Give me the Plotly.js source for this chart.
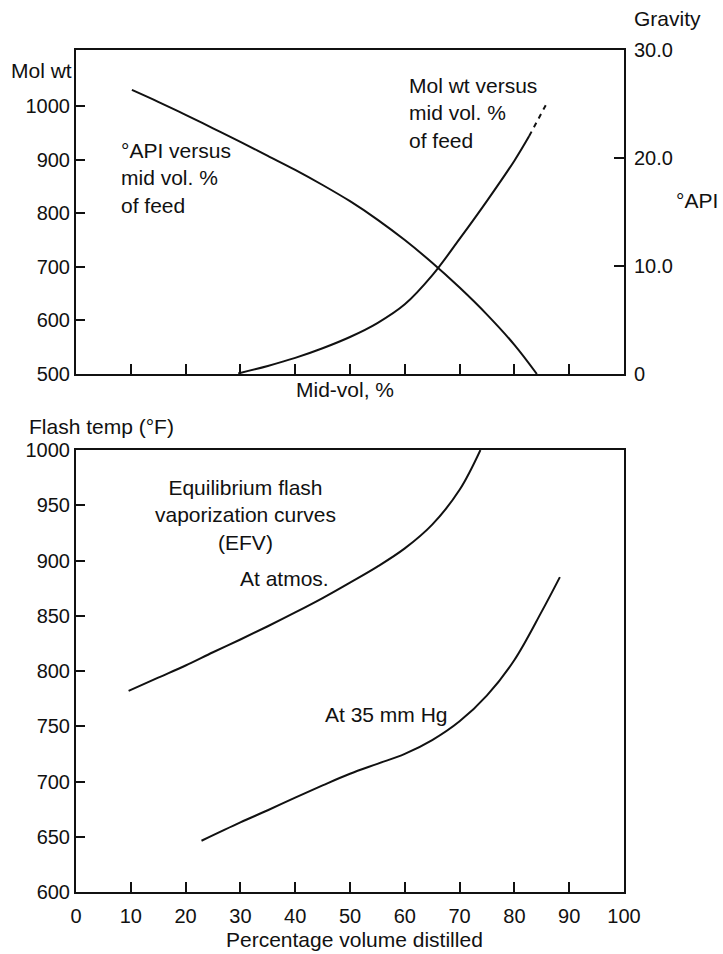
<!DOCTYPE html>
<html>
<head>
<meta charset="utf-8">
<script src="https://cdn.plot.ly/plotly-3.0.1.min.js"></script>
<style>
html,body{margin:0;padding:0;background:#fff;}
#chart{width:723px;height:954px;}
</style>
</head>
<body>
<div id="chart"></div>
<script>
// ---- Top chart: °API and Mol wt versus mid-vol % ----
const apiX = [10.2, 15, 20, 25, 30, 35, 40, 45, 50, 55, 60, 65, 70, 75, 80, 84.1];
const apiY = [26.3, 25.2, 24.0, 22.75, 21.5, 20.2, 18.9, 17.5, 16.0, 14.3, 12.4, 10.3, 8.0, 5.5, 2.7, 0];

const molX = [29.6, 35, 40, 45, 50, 55, 60, 65, 70, 75, 80, 82.7];
const molY = [501, 515, 530, 548, 569, 595, 630, 684, 752, 823, 898, 944];
const molExtX = [82.7, 85.9];
const molExtY = [944, 1005];

const topXTicks = [10, 20, 30, 40, 50, 60, 70, 80, 90];
const molTicks = [500, 600, 700, 800, 900, 1000];
const apiTicks = [0, 10, 20, 30];
const apiTickText = ['0', '10.0', '20.0', '30.0'];

// ---- Bottom chart: EFV curves ----
const atmX = [9.6, 15, 20, 25, 30, 35, 40, 45, 50, 55, 60, 65, 70, 73.8];
const atmY = [782, 794, 805, 817, 828.5, 840.5, 853, 866, 880, 894.5, 911, 932.5, 964, 1000];

const vacX = [22.9, 30, 35, 40, 45, 50, 55, 60, 65, 70, 75, 80, 85, 88.3];
const vacY = [646.4, 663, 674, 685.5, 696.5, 707, 716, 725, 737.5, 754.5, 778, 810, 854, 885];

const FONT = 'Liberation Sans, Arial, Helvetica, sans-serif';
const INK = '#111';
const lineStyle = {color: INK, width: 2, shape: 'spline', smoothing: 1};

const traces = [
  {x: apiX, y: apiY, xaxis: 'x', yaxis: 'y2', mode: 'lines', line: lineStyle, hoverinfo: 'skip'},
  {x: molX, y: molY, xaxis: 'x', yaxis: 'y', mode: 'lines', line: lineStyle, hoverinfo: 'skip'},
  {x: molExtX, y: molExtY, xaxis: 'x', yaxis: 'y', mode: 'lines',
   line: {color: INK, width: 2, dash: '5px,5px'}, hoverinfo: 'skip'},
  {x: atmX, y: atmY, xaxis: 'x3', yaxis: 'y3', mode: 'lines', line: lineStyle, hoverinfo: 'skip'},
  {x: vacX, y: vacY, xaxis: 'x3', yaxis: 'y3', mode: 'lines', line: lineStyle, hoverinfo: 'skip'}
];

const axBase = {
  showgrid: false, zeroline: false, showline: true, linecolor: INK, linewidth: 2,
  ticks: 'inside', tickcolor: INK, tickwidth: 2, ticklen: 9,
  tickfont: {family: FONT, size: 20, color: INK}, fixedrange: true
};

const topDomain = [0.6152, 1];
const botDomain = [0, 0.5249];

const ann = (text, x, y, xref, yref, xanchor, yanchor, align) => ({
  text, x, y, xref, yref, xanchor, yanchor, align: align || 'left', showarrow: false,
  font: {family: FONT, size: 21, color: INK}
});

const layout = {
  width: 723, height: 954,
  margin: {l: 76, r: 99, t: 50, b: 62},
  paper_bgcolor: '#fff', plot_bgcolor: '#fff',
  showlegend: false,
  xaxis: Object.assign({}, axBase, {domain: [0, 1], anchor: 'y', range: [0, 100],
    tickmode: 'array', tickvals: topXTicks, showticklabels: false, ticklen: 10, mirror: true}),
  yaxis: Object.assign({}, axBase, {domain: topDomain, anchor: 'x', range: [500, 1104.5],
    tickmode: 'array', tickvals: molTicks, ticklabelstandoff: 0}),
  yaxis2: Object.assign({}, axBase, {overlaying: 'y', side: 'right', anchor: 'x', range: [0, 30],
    tickmode: 'array', tickvals: apiTicks, ticktext: apiTickText, ticklen: 10, ticklabelstandoff: 4}),
  xaxis3: Object.assign({}, axBase, {domain: [0, 1], anchor: 'y3', range: [0, 100],
    tickmode: 'linear', tick0: 0, dtick: 10, ticklen: 10, mirror: true, ticklabelstandoff: 5}),
  yaxis3: Object.assign({}, axBase, {domain: botDomain, anchor: 'x3', range: [600, 1000],
    tickmode: 'linear', tick0: 600, dtick: 50, mirror: true, ticklabelstandoff: 0}),
  annotations: [
    ann('Mol wt', -0.1223, 0.9762, 'paper', 'paper', 'left', 'middle'),
    ann('Gravity', 1.0146, 1.038, 'paper', 'paper', 'left', 'middle'),
    ann('°API', 1.1752, 0.8207, 'paper', 'paper', 'right', 'middle'),
    ann('Mid-vol, %', 0.4909, 0.5962, 'paper', 'paper', 'center', 'middle', 'center'),
    ann('Flash temp (°F)', -0.0894, 0.5534, 'paper', 'paper', 'left', 'middle'),
    ann('Percentage volume distilled', 0.509, -0.057, 'paper', 'paper', 'center', 'middle', 'center'),
    ann('°API versus<br>mid vol. %<br>of feed', 7.85, 865.7, 'x', 'y', 'left', 'middle', 'left'),
    ann('Mol wt versus<br>mid vol. %<br>of feed', 60.4, 987, 'x', 'y', 'left', 'middle', 'left'),
    ann('Equilibrium flash<br>vaporization curves<br>(EFV)', 31.0, 941, 'x3', 'y3', 'center', 'middle', 'center'),
    ann('At atmos.', 38.1, 884, 'x3', 'y3', 'center', 'middle', 'center'),
    ann('At 35 mm Hg', 56.7, 761, 'x3', 'y3', 'center', 'middle', 'center')
  ]
};

Plotly.newPlot('chart', traces, layout, {staticPlot: true, displayModeBar: false});
</script>
</body>
</html>
